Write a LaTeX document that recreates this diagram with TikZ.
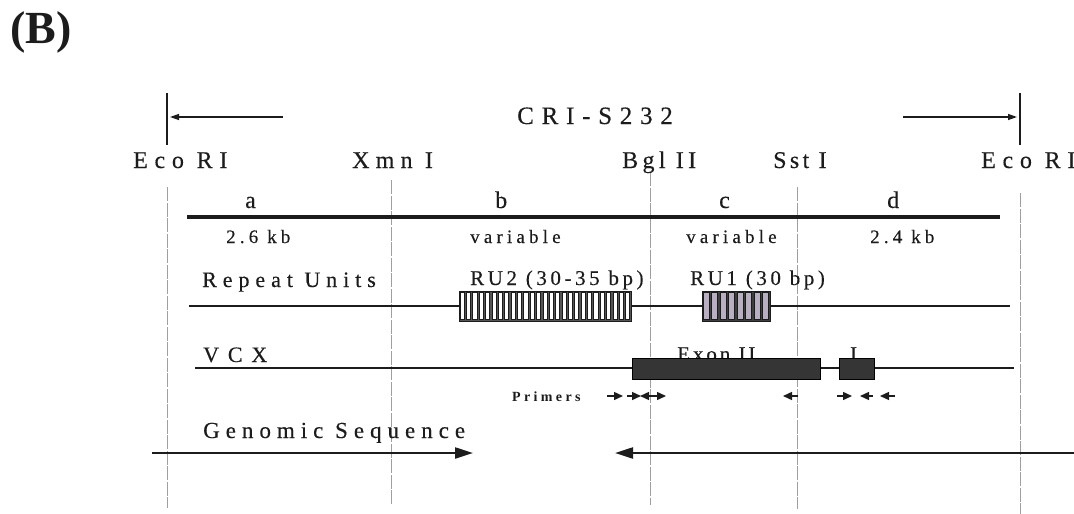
\documentclass[tikz,border=0pt]{standalone}
\usepackage{fontspec}
\setmainfont{Liberation Serif}
\usetikzlibrary{arrows.meta}
\definecolor{ink}{HTML}{1c1c1c}
\definecolor{ruone}{RGB}{184,176,192}
\definecolor{exonfill}{HTML}{353535}
\begin{document}
\begin{tikzpicture}[x=1pt,y=-1pt,
  lbl/.style 2 args={inner sep=0pt, anchor=base west, text=ink,
     font=\fontsize{#1}{#1}\selectfont\addfontfeatures{LetterSpace=#2,FakeBold=0.3}},
  guide/.style={draw=gray!75, line width=0.7pt, dash pattern=on 14pt off 1.5pt},
  track/.style={draw=ink, line width=1.8pt},
  tick/.style={draw=ink, line width=1.8pt},
  toparrow/.style={draw=ink, line width=1.3pt, -{Triangle[length=9pt,width=6pt]}},
  primer/.style={draw=ink, line width=1.4pt, -{Triangle[length=9pt,width=8pt]}},
  bigarrow/.style={draw=ink, line width=2.2pt, -{Triangle[length=18pt,width=11pt]}},
  cellbox/.style={draw=ink, line width=0.8pt}]
\useasboundingbox (0,0) rectangle (1074,514);

% guide lines
\coordinate (g1t) at (167,187); \coordinate (g1b) at (167,508);
\coordinate (g2t) at (391,180); \coordinate (g2b) at (391,505);
\coordinate (g3t) at (650,172); \coordinate (g3b) at (650,505);
\coordinate (g4t) at (797,187); \coordinate (g4b) at (797,509);
\coordinate (g5t) at (1020,193); \coordinate (g5b) at (1020,514);
\foreach \g in {1,...,5} \draw[guide] (g\g t) -- (g\g b);

% top ticks and arrows
\coordinate (tl1) at (167,93); \coordinate (tl2) at (167,145);
\coordinate (tr1) at (1020,93); \coordinate (tr2) at (1020,145);
\draw[tick] (tl1) -- (tl2);
\draw[tick] (tr1) -- (tr2);
\coordinate (al1) at (283,117); \coordinate (al2) at (170,117);
\coordinate (ar1) at (903,117); \coordinate (ar2) at (1017,117);
\draw[toparrow] (al1) -- (al2);
\draw[toparrow] (ar1) -- (ar2);

% main map line
\coordinate (m1) at (187,217); \coordinate (m2) at (1000,217);
\draw[draw=ink, line width=3.2pt] (m1) -- (m2);

% repeat units line
\coordinate (r1) at (189,306); \coordinate (r2) at (1010,306);
\draw[track] (r1) -- (r2);
% RU2 box
\fill[ink!75] (459,291) rectangle (631,321);
\foreach \i in {0,...,26} {
  \pgfmathsetmacro{\xa}{459+\i*6.37+1.1}
  \pgfmathsetmacro{\xb}{\xa+4.1}
  \filldraw[fill=white, cellbox] (\xa,292.5) rectangle (\xb,319.5);
}
\draw[cellbox] (459,291) rectangle (631,321);
% RU1 box
\fill[ink!85] (702,291) rectangle (770,321);
\foreach \i in {0,...,7} {
  \pgfmathsetmacro{\xa}{702+\i*8.5+1.3}
  \pgfmathsetmacro{\xb}{\xa+5.9}
  \filldraw[fill=ruone, cellbox] (\xa,292.5) rectangle (\xb,319.5);
}
\draw[cellbox] (702,291) rectangle (770,321);

% VCX line and exons
\node[lbl={21}{14}] (exon2) at (677,361) {Exon II};
\node[lbl={21}{0}] (exon1) at (850,361) {I};
\coordinate (v1) at (195,368); \coordinate (v2) at (1014,368);
\draw[track] (v1) -- (v2);
\filldraw[fill=exonfill, draw=black, line width=0.8pt] (632,358) rectangle (820,379);
\filldraw[fill=exonfill, draw=black, line width=0.8pt] (839,358) rectangle (874,379);

% primers
\foreach \n/\s/\e in {1/607/623, 2/627/641, 3/653/640, 4/652/666, 5/798/783, 6/837/852, 7/873/860, 8/895/880} {
  \coordinate (p\n s) at (\s,396);
  \coordinate (p\n e) at (\e,396);
  \draw[primer] (p\n s) -- (p\n e);
}

% genomic sequence arrows
\coordinate (gs1) at (152,453); \coordinate (gs2) at (473,453);
\coordinate (gs3) at (1074,453); \coordinate (gs4) at (615,453);
\draw[bigarrow] (gs1) -- (gs2);
\draw[bigarrow] (gs3) -- (gs4);

% labels
\node[inner sep=0pt, anchor=base west, text=ink, font=\fontsize{46}{46}\selectfont\bfseries] (B) at (10,43) {(B)};
\node[lbl={25}{31}] (cri) at (517,124) {CRI-S232};
\node[lbl={24}{28}] (ecoL) at (133,168) {Eco RI};
\node[lbl={24}{26}] (xmn) at (352,168) {Xmn I};
\node[lbl={24}{18}] (bgl) at (622,168) {Bgl II};
\node[lbl={24}{14}] (sst) at (773,168) {Sst I};
\node[lbl={24}{28}] (ecoR) at (981,168) {Eco RI};
\node[lbl={24}{0}] (la) at (245,208) {a};
\node[lbl={24}{0}] (lb) at (495,208) {b};
\node[lbl={24}{0}] (lc) at (719,208) {c};
\node[lbl={24}{0}] (ld) at (887,208) {d};
\node[lbl={19}{22}] (sa) at (226,243) {2.6 kb};
\node[lbl={19}{22}] (sb) at (470,243) {variable};
\node[lbl={19}{22}] (sc) at (686,243) {variable};
\node[lbl={19}{22}] (sd) at (870,243) {2.4 kb};
\node[lbl={22}{27}] (rep) at (202,287) {Repeat Units};
\node[lbl={21}{17}] (ru2) at (470,285) {RU2 (30-35 bp)};
\node[lbl={21}{17}] (ru1) at (690,285) {RU1 (30 bp)};
\node[lbl={22}{40}] (vcx) at (203,362) {VCX};
\node[inner sep=0pt, anchor=base west, text=ink, font=\fontsize{14}{14}\selectfont\bfseries\addfontfeatures{LetterSpace=24}] (prim) at (512,401) {Primers};
\node[lbl={23}{26}] (gen) at (203,438) {Genomic Sequence};
\end{tikzpicture}
\end{document}
